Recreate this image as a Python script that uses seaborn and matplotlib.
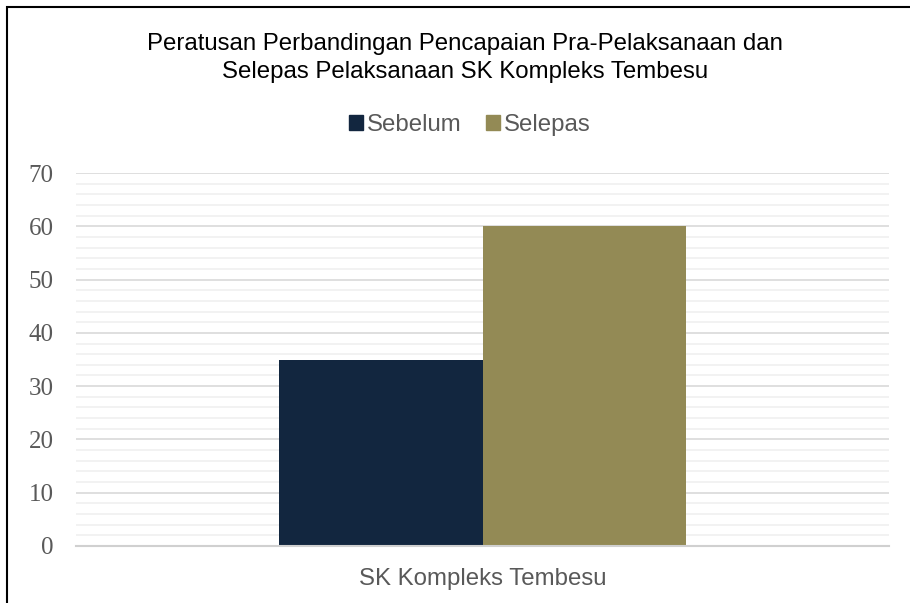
import matplotlib
matplotlib.use("Agg")
import matplotlib.pyplot as plt
from matplotlib.patches import Rectangle
from matplotlib.ticker import MultipleLocator
import pandas as pd
import seaborn as sns

# Data
categories = ["SK Kompleks Tembesu"]
series_names = ["Sebelum", "Selepas"]
sebelum = [35]
selepas = [60]
y_ticks = [0, 10, 20, 30, 40, 50, 60, 70]

title = "Peratusan Perbandingan Pencapaian Pra-Pelaksanaan dan\nSelepas Pelaksanaan SK Kompleks Tembesu"
colors = ["#12263F", "#938A55"]

df = pd.DataFrame({
    "Sekolah": categories * 2,
    "Siri": [series_names[0]] * len(categories) + [series_names[1]] * len(categories),
    "Peratus": sebelum + selepas,
})

sns.set_theme(style="white")
plt.rcParams["font.family"] = ["Liberation Sans", "DejaVu Sans"]

fig = plt.figure(figsize=(9.10, 6.03), dpi=100)
ax = fig.add_axes([76 / 910, 1 - 546 / 603, (889 - 76) / 910, (546 - 173) / 603])

sns.barplot(data=df, x="Sekolah", y="Peratus", hue="Siri", hue_order=series_names,
            palette=colors, width=0.5, saturation=1, linewidth=0, ax=ax, legend=False,
            zorder=3)

ax.set_xlim(-0.5, 0.5)
ax.set_ylim(0, 70)
ax.set_yticks(y_ticks)
ax.yaxis.set_minor_locator(MultipleLocator(2))
ax.grid(which="major", axis="y", color="#D9D9D9", linewidth=1.2, zorder=0)
ax.grid(which="minor", axis="y", color="#F0F0F0", linewidth=1.2, zorder=0)
ax.set_axisbelow(True)
for side in ["top", "right", "left"]:
    ax.spines[side].set_visible(False)
ax.spines["bottom"].set_color("#D0D0D0")
ax.spines["bottom"].set_linewidth(1.5)
ax.spines["bottom"].set_zorder(4)

ax.set_xlabel("")
ax.set_ylabel("")
ax.tick_params(axis="both", which="both", length=0)
ax.tick_params(axis="y", pad=16)
ax.tick_params(axis="x", pad=16)
for lbl in ax.get_yticklabels():
    lbl.set_fontfamily(["Liberation Serif", "DejaVu Serif"])
    lbl.set_fontsize(18)
    lbl.set_color("#595959")
for lbl in ax.get_xticklabels():
    lbl.set_fontsize(17.3)
    lbl.set_color("#595959")

# Title
fig.text(465 / 910, 1 - 58 / 603, title, ha="center", va="center", fontsize=17.3,
         color="#000000", linespacing=1.4)

# Legend
handles = [Rectangle((0, 0), 1, 1, color=c) for c in colors]
fig.legend(handles, series_names, loc="center", bbox_to_anchor=(0.516, 1 - 125 / 603),
           ncol=2, frameon=False, fontsize=17.3, handlelength=0.6, handleheight=0.6,
           handletextpad=0.15, columnspacing=1.0, labelcolor="#595959")

# Outer frame
fig.patches.append(Rectangle((6.5 / 910, -0.1), 1.2, 1 - 7.5 / 603 + 0.1,
                             transform=fig.transFigure, fill=False,
                             edgecolor="black", linewidth=1.5))

fig.savefig("out.png", dpi=100)
